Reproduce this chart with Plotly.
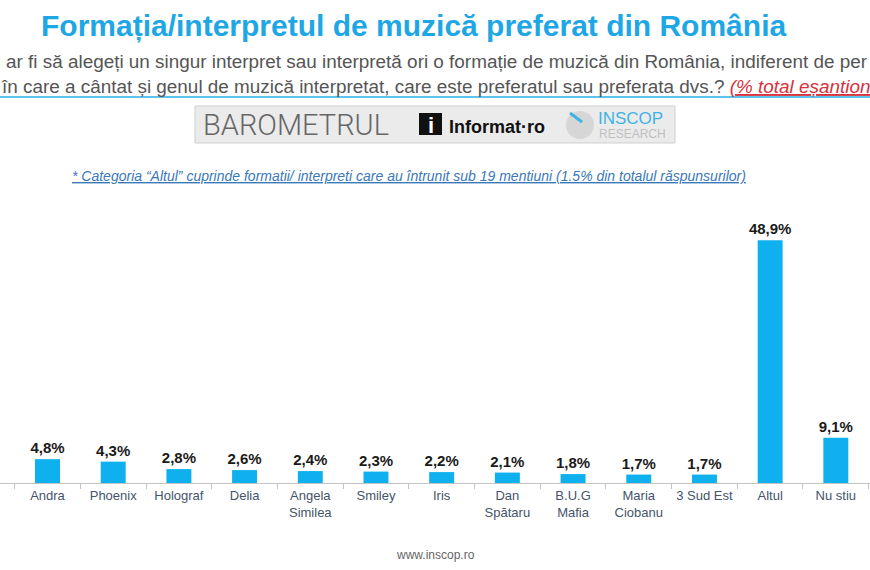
import plotly.graph_objects as go

categories = ["Andra", "Phoenix", "Holograf", "Delia", "Angela<br>Similea", "Smiley", "Iris",
              "Dan<br>Spătaru", "B.U.G<br>Mafia", "Maria<br>Ciobanu", "3 Sud Est", "Altul", "Nu stiu"]
values = [4.8, 4.3, 2.8, 2.6, 2.4, 2.3, 2.2, 2.1, 1.8, 1.7, 1.7, 48.9, 9.1]
value_labels = [f"{v:.1f}".replace(".", ",") + "%" for v in values]

W, H = 870, 570
PT, PB = 190, 483  # plot area top/bottom in px


def px(x):
    return x / W


def py(y):
    return (PB - y) / (PB - PT)


fig = go.Figure()
fig.add_trace(go.Bar(
    x=categories, y=values, width=0.38,
    marker=dict(color="#0fb0ee", line=dict(width=0)),
    text=value_labels, textposition="outside", cliponaxis=False, constraintext="none",
    textfont=dict(family="Arial", size=15, color="#1a1a1a"),
    texttemplate="<b>%{text}</b>",
))

ann = []
ann.append(dict(text="<b>Formația/interpretul de muzică preferat din România</b>",
                x=px(413), y=py(26), xanchor="center", yanchor="middle",
                font=dict(family="Arial", size=30, color="#1ea7e4")))
ann.append(dict(text="ar fi să alegeți un singur interpret sau interpretă ori o formație de muzică din România, indiferent de per",
                x=px(4), y=py(62), xanchor="left", yanchor="middle",
                font=dict(family="Arial", size=18.9, color="#555555")))
ann.append(dict(text="în care a cântat și genul de muzică interpretat, care este preferatul sau preferata dvs.? "
                     "<span style='color:#d9303a'><i><u>(% total eșantion</u></i></span>",
                x=px(-1), y=py(86), xanchor="left", yanchor="middle",
                font=dict(family="Arial", size=18.9, color="#555555")))
# banner texts
ann.append(dict(text="BAROMETRUL", x=px(201), y=py(125), xanchor="left", yanchor="middle",
                font=dict(family="Roboto", size=29, color="#666666", weight=300)))
ann.append(dict(text="<b>i</b>", x=px(430.5), y=py(125), xanchor="center", yanchor="middle",
                font=dict(family="Arial", size=22, color="#ffffff")))
ann.append(dict(text="<b>Informat·ro</b>", x=px(447), y=py(127), xanchor="left", yanchor="middle",
                font=dict(family="Arial", size=18, color="#111111")))
ann.append(dict(text="INSCOP", x=px(596), y=py(119), xanchor="left", yanchor="middle",
                font=dict(family="Arial", size=17, color="#3fb3e6")))
ann.append(dict(text="RESEARCH", x=px(597), y=py(134), xanchor="left", yanchor="middle",
                font=dict(family="Arial", size=12, color="#c0c0c0")))
ann.append(dict(text="<i><u>* Categoria “Altul” cuprinde formatii/ interpreti care au întrunit sub 19 mentiuni (1.5% din totalul răspunsurilor)</u></i>",
                x=px(409), y=py(176), xanchor="center", yanchor="middle",
                font=dict(family="Arial", size=14, color="#3a78b8")))
ann.append(dict(text="www.inscop.ro", x=px(435), y=py(555), xanchor="center", yanchor="middle",
                font=dict(family="Arial", size=12, color="#666666")))
for a in ann:
    a.update(xref="paper", yref="paper", showarrow=False)

shapes = [
    dict(type="line", xref="paper", yref="paper", x0=0, x1=1, y0=py(97), y1=py(97),
         line=dict(color="#5cc3ee", width=2)),
    dict(type="rect", xref="paper", yref="paper", x0=px(195), x1=px(675), y0=py(143), y1=py(106),
         fillcolor="#ebebeb", line=dict(color="#cfcfcf", width=1)),
    dict(type="rect", xref="paper", yref="paper", x0=px(419), x1=px(442), y0=py(135), y1=py(113),
         fillcolor="#111111", line=dict(width=0)),
    dict(type="circle", xref="paper", yref="paper", x0=px(566), x1=px(594), y0=py(139), y1=py(111),
         fillcolor="#d6d6d6", line=dict(width=0)),
    dict(type="line", xref="paper", yref="paper", x0=px(570), x1=px(582), y0=py(113), y1=py(122),
         line=dict(color="#3fb3e6", width=3)),
]

fig.update_layout(
    width=W, height=H,
    margin=dict(l=0, r=0, t=PT, b=H - PB, pad=0),
    paper_bgcolor="white", plot_bgcolor="white",
    showlegend=False,
    annotations=ann, shapes=shapes,
)
fig.update_xaxes(
    type="category", categoryorder="array", categoryarray=categories,
    range=[-0.723, 12.52], showline=True, linecolor="#c4c4c4", linewidth=1,
    ticks="outside", ticklen=5, tickcolor="#c4c4c4", tickson="boundaries",
    tickangle=0,
    tickfont=dict(family="Arial", size=13, color="#44546a"), showgrid=False,
)
fig.update_yaxes(range=[0, 59], visible=False, showgrid=False)

fig.write_html("out.html")
